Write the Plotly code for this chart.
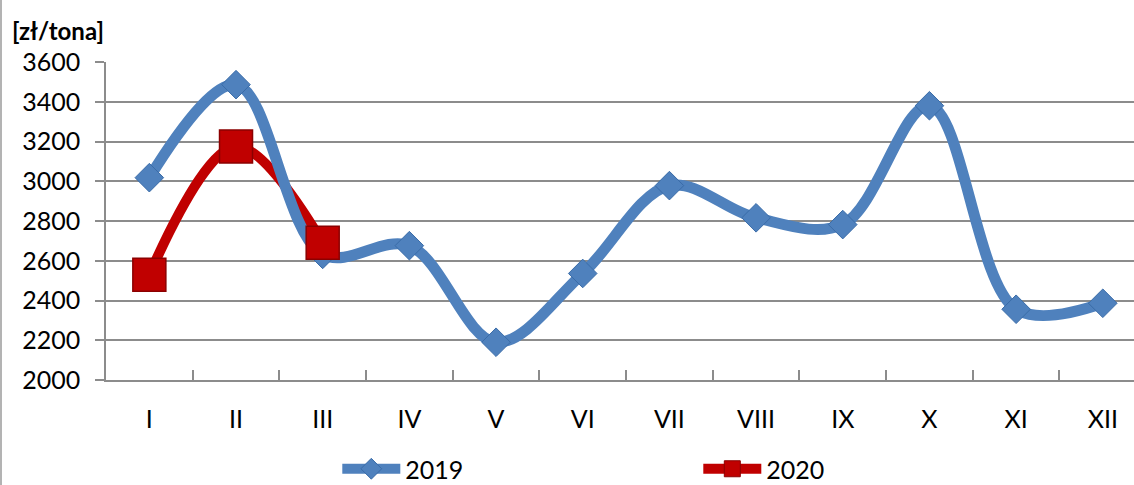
import plotly.graph_objects as go

months = ["I", "II", "III", "IV", "V", "VI", "VII", "VIII", "IX", "X", "XI", "XII"]
v2019 = [3018, 3486, 2632, 2676, 2190, 2536, 2978, 2816, 2782, 3380, 2356, 2386]
v2020 = [2530, 3175, 2690]
y_ticks = [2000, 2200, 2400, 2600, 2800, 3000, 3200, 3400, 3600]

BLUE = "#4F81BD"
RED = "#C00000"
FONT = "Lato"

fig = go.Figure()
# 2020 line underneath
fig.add_trace(go.Scatter(x=months[:len(v2020)], y=v2020, mode="lines",
                         line=dict(color=RED, width=10, shape="spline", smoothing=1.0),
                         showlegend=False, hoverinfo="skip"))
# 2019
fig.add_trace(go.Scatter(x=months, y=v2019, mode="lines+markers", name="2019",
                         line=dict(color=BLUE, width=11, shape="spline", smoothing=1.0),
                         marker=dict(symbol="diamond", size=22, color=BLUE,
                                     line=dict(color="#3A6CA8", width=1))))
# 2020 markers on top
fig.add_trace(go.Scatter(x=months[:len(v2020)], y=v2020, mode="markers",
                         marker=dict(symbol="square", size=33, color=RED,
                                     line=dict(color="#8B0000", width=1.5)),
                         showlegend=False))
# legend entry for 2020
fig.add_trace(go.Scatter(x=[None], y=[None], mode="lines+markers", name="2020",
                         line=dict(color=RED, width=10),
                         marker=dict(symbol="square", size=20, color=RED,
                                     line=dict(color="#8B0000", width=1))))

PH = 318.0
fig.update_layout(
    width=1134, height=485,
    margin=dict(l=106, r=0, t=62, b=105, autoexpand=False),
    paper_bgcolor="white", plot_bgcolor="white",
    font=dict(family=FONT, size=25, color="black"),
    showlegend=True,
    legend=dict(orientation="h", x=0.225, xanchor="left", y=-112 / PH, yanchor="bottom",
                entrywidth=288, entrywidthmode="pixels", itemwidth=58,
                font=dict(family=FONT, size=25, color="black"),
                traceorder="normal"),
    annotations=[dict(text="<b>[zł/tona]</b>", xref="paper", yref="paper",
                      x=-106/1028 + 10/1028, y=1.0 + 31/PH, xanchor="left", yanchor="middle",
                      showarrow=False, font=dict(family=FONT, size=24, color="black"))],
    shapes=[dict(type="line", xref="paper", yref="paper",
                 x0=-105/1028, x1=-105/1028, y0=-105/PH, y1=1 + 62/PH,
                 line=dict(color="#9A9A9A", width=1.5))],
)

fig.update_xaxes(type="category", range=[-0.5, 11.36],
                 tickson="boundaries", ticks="inside", ticklen=10, tickwidth=1.5,
                 tickcolor="#8C8C8C", showline=True, linecolor="#8C8C8C", linewidth=1.5,
                 showgrid=False, tickfont=dict(family=FONT, size=25, color="black"),
                 ticklabelstandoff=16, automargin=False)
fig.update_yaxes(range=[2000, 3600], tickvals=y_ticks,
                 ticks="outside", ticklen=9, tickwidth=1.5, tickcolor="#8C8C8C",
                 showline=True, linecolor="#8C8C8C", linewidth=1.5,
                 showgrid=True, gridcolor="#8C8C8C", gridwidth=1.5,
                 zeroline=False, tickfont=dict(family=FONT, size=25, color="black"),
                 ticklabelstandoff=10, automargin=False)

fig.write_html("out.html", config={"displayModeBar": False},
               post_script="document.body.style.margin='0';")
